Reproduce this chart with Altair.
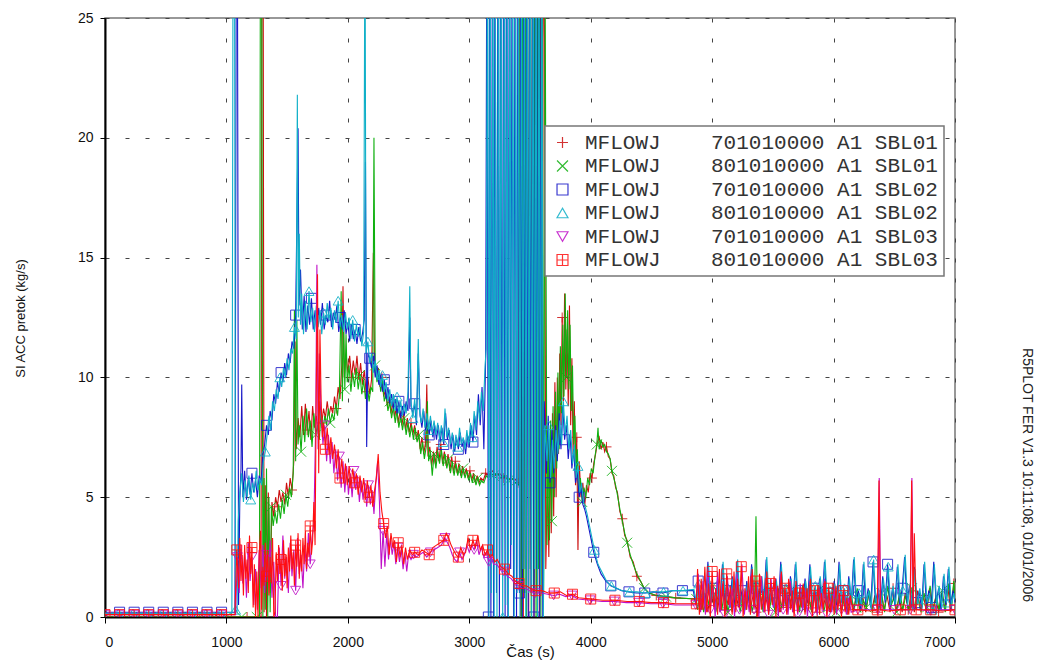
import altair as alt
import pandas as pd

NAMES = [
    "MFLOWJ    701010000 A1 SBL01",
    "MFLOWJ    801010000 A1 SBL01",
    "MFLOWJ    701010000 A1 SBL02",
    "MFLOWJ    801010000 A1 SBL02",
    "MFLOWJ    701010000 A1 SBL03",
    "MFLOWJ    801010000 A1 SBL03",
]
COLORS = ["#cc1010", "#10b010", "#1818c8", "#10b0c8", "#c010c8", "#ff1010"]
SHAPES = [
    "M-1,0L1,0M0,-1L0,1",
    "M-1,-1L1,1M-1,1L1,-1",
    "square",
    "triangle-up",
    "triangle-down",
    "M-1,-1L1,-1L1,1L-1,1ZM0,-1L0,1M-1,0L1,0",
]
X_TICKS = [0, 1000, 2000, 3000, 4000, 5000, 6000, 7000]
Y_TICKS = [0, 5, 10, 15, 20, 25]

# 701010000 A1 SBL01
s1 = [(0,0.0),(130,0.0),(260,0.0),(390,0.0),(520,0.0),(650,0.0),(780,0.0),(910,0.0),(1040,0.0),(1170,0.0),(1285,0.0),(1292,30),(1302,30),(1310,0.2),(1320,5.5),(1330,0.0),(1345,5.2),(1360,1.0),(1375,4.8),(1390,4.2),(1405,5.0),(1420,4.6),(1435,5.3),(1450,4.8),(1465,5.2),(1480,4.7),(1495,5.6),(1510,5.0),(1525,5.8),(1540,5.3),(1555,6.5),(1565,11.5),(1575,7.0),(1590,8.3),(1605,7.5),(1620,8.8),(1635,7.6),(1650,8.9),(1665,7.8),(1680,8.6),(1695,7.4),(1710,8.8),(1725,7.9),(1740,8.4),(1755,7.7),(1770,9.0),(1785,8.1),(1800,8.7),(1815,8.3),(1830,9.0),(1845,8.4),(1860,8.8),(1875,8.5),(1890,9.2),(1905,8.7),(1920,9.6),(1935,9.1),(1950,10.5),(1960,13.8),(1970,10.0),(1985,11.0),(2000,10.2),(2015,10.9),(2030,10.0),(2045,10.7),(2060,10.1),(2075,10.9),(2090,9.9),(2105,10.6),(2120,9.7),(2135,10.3),(2150,9.4),(2165,10.0),(2180,9.3),(2195,9.9),(2210,15.2),(2220,10.6),(2235,10.0),(2250,10.4),(2265,9.6),(2280,10.0),(2295,9.2),(2310,9.5),(2325,8.8),(2340,9.2),(2355,8.5),(2370,9.0),(2385,8.3),(2400,8.8),(2415,8.1),(2430,8.6),(2445,8.0),(2460,8.5),(2475,7.8),(2490,8.3),(2505,7.7),(2520,8.1),(2535,7.6),(2550,8.0),(2565,7.4),(2580,7.8),(2595,7.0),(2610,7.5),(2625,6.8),(2640,7.3),(2650,9.7),(2660,6.7),(2675,7.1),(2690,6.3),(2705,6.9),(2720,6.4),(2735,7.1),(2750,6.5),(2765,7.2),(2780,6.4),(2795,6.9),(2810,6.3),(2825,6.8),(2840,6.1),(2855,6.7),(2870,6.0),(2885,6.5),(2900,6.0),(2915,6.4),(2930,5.9),(2945,6.3),(2960,5.9),(2975,6.2),(2990,5.8),(3005,6.1),(3020,5.7),(3035,6.0),(3050,5.6),(3065,5.9),(3080,5.6),(3095,5.8),(3115,5.7),(3135,6.0),(3160,5.9),(3190,6.1),(3220,5.9),(3250,6.0),(3280,5.8),(3310,5.9),(3340,5.7),(3370,5.8),(3400,5.6),
      (3412,30),(3423,0),(3434,30),(3445,0),(3456,30),(3467,1),(3478,30),(3489,0),(3500,30),(3511,2),(3522,30),(3533,0),(3544,30),(3555,1),(3566,30),(3577,0),(3588,30),(3599,1),(3610,30),(3620,24),(3630,2.0),(3645,6.0),(3655,2.5),
      (3665,7.2),(3675,3.5),(3685,8.5),(3695,4.2),(3705,9.8),(3715,5.0),(3725,10.0),(3735,6.8),(3745,11.0),(3755,8.0),(3765,12.5),(3775,9.0),(3785,13.5),(3795,9.5),(3805,12.0),(3815,8.8),(3825,13.0),(3835,8.0),(3845,10.8),(3855,6.8),(3865,9.0),(3875,5.5),(3885,7.5),(3895,2.8),(3905,6.5),(3920,5.0),(3935,5.6),(3950,4.6),(3965,5.5),(3980,5.2),(3995,6.0),(4010,5.8),(4025,6.4),(4040,6.8),(4055,7.3),(4070,7.5),(4085,7.0),(4100,7.3),(4115,6.9),(4130,7.1),(4145,6.7),(4160,6.6),(4175,6.0),(4190,5.9),(4205,5.4),(4220,5.2),(4240,4.4),(4260,4.1),(4280,3.4),(4300,3.2),(4325,2.5),(4350,2.3),(4380,1.7),(4410,1.5),(4440,1.2),(4480,1.0),(4540,0.9),(4620,0.85),(4700,0.8),(4870,0.75),
      (4890,1.2),(4915,0.3),(4940,1.0),(4965,0.2),(4990,1.3),(5015,0.4),(5040,0.9),(5065,0.2),(5090,1.2),(5115,0.3),(5140,1.0),(5165,0.2),(5190,1.3),(5215,0.4),(5240,0.8),(5265,0.2),(5290,1.1),(5315,0.3),(5340,1.0),(5365,0.2),(5390,1.2),(5415,0.4),(5440,0.9),(5465,0.2),(5490,1.1),(5515,0.3),(5540,1.0),(5565,0.2),(5590,1.2),(5615,0.4),(5640,0.8),(5665,0.2),(5690,1.1),(5715,0.3),(5740,1.0),(5765,0.2),(5790,1.2),(5815,0.3),(5840,0.9),(5865,0.2),(5890,1.1),(5915,0.4),(5940,1.0),(5965,0.2),(5990,1.2),(6015,0.3),(6040,0.9),(6065,0.2),(6090,1.1),(6115,0.3),(6140,1.0),(6165,0.2),(6190,1.1),(6215,0.3),(6240,0.8),(6265,0.2),(6290,1.0),(6315,0.3),(6340,0.9),(6365,0.2),(6390,1.1),(6415,0.3),(6440,0.9),(6465,0.2),(6490,1.2),(6515,0.3),(6540,0.8),(6565,0.2),(6590,1.0),(6615,0.3),(6640,0.9),(6665,0.2),(6690,1.1),(6715,0.3),(6740,0.9),(6765,0.2),(6790,1.2),(6815,0.3),(6840,0.8),(6865,0.2),(6890,1.0),(6915,0.3),(6940,1.3),(6965,0.2),(6990,1.4),(7000,0.7)]

# 801010000 A1 SBL01
s2 = [(0,0.0),(125,0.0),(250,0.0),(375,0.0),(500,0.0),(625,0.0),(750,0.0),(875,0.0),(1000,0.0),(1125,0.0),(1250,0.0),(1272,0.0),(1280,30),(1290,30),(1300,0.0),(1310,5.8),(1320,0.3),(1330,6.2),(1340,0.0),(1350,5.0),(1360,0.2),(1370,4.6),(1385,3.8),(1400,4.4),(1415,3.9),(1430,4.7),(1445,4.1),(1460,4.9),(1475,4.3),(1490,5.1),(1505,4.6),(1520,5.4),(1535,5.0),(1550,6.0),(1560,12.8),(1570,6.5),(1580,12.4),(1590,7.2),(1600,8.0),(1615,6.9),(1630,8.4),(1645,7.3),(1660,8.7),(1675,7.5),(1690,8.2),(1705,7.1),(1720,8.5),(1735,7.6),(1750,8.0),(1765,7.4),(1780,8.6),(1795,7.8),(1810,8.4),(1825,8.0),(1840,8.7),(1855,8.1),(1870,8.5),(1885,8.2),(1900,8.9),(1915,8.4),(1930,9.3),(1945,13.6),(1955,9.0),(1965,12.4),(1975,9.5),(1985,11.8),(1995,9.8),(2010,10.5),(2025,9.4),(2040,10.2),(2055,9.6),(2070,10.4),(2085,9.5),(2100,10.1),(2115,9.3),(2130,9.9),(2145,9.1),(2160,9.7),(2175,9.0),(2190,9.6),(2205,9.4),(2215,20.0),(2225,10.5),(2240,9.8),(2255,10.3),(2270,9.4),(2285,9.9),(2300,9.0),(2315,9.3),(2330,8.6),(2345,9.0),(2360,8.3),(2375,8.8),(2390,8.1),(2405,8.6),(2420,7.9),(2435,8.4),(2450,7.8),(2465,8.3),(2480,7.6),(2495,8.1),(2510,7.5),(2525,8.0),(2540,7.4),(2555,7.9),(2570,7.3),(2585,7.6),(2600,6.8),(2615,7.3),(2630,6.6),(2645,7.1),(2655,9.0),(2665,6.5),(2680,6.9),(2695,5.9),(2710,6.8),(2725,6.2),(2740,6.9),(2755,6.4),(2770,7.0),(2785,6.3),(2800,6.8),(2815,6.2),(2830,6.6),(2845,6.0),(2860,6.5),(2875,5.9),(2890,6.4),(2905,5.9),(2920,6.3),(2935,5.8),(2950,6.2),(2965,5.8),(2980,6.1),(2995,5.7),(3010,6.0),(3025,5.6),(3040,5.9),(3055,5.5),(3070,5.8),(3085,5.5),(3100,5.7),(3120,5.6),(3140,5.9),(3160,5.8),(3180,6.0),(3200,5.9),(3230,6.0),(3260,5.8),(3290,5.9),(3320,5.7),(3350,5.8),(3380,5.6),(3410,5.5),
      (3420,30),(3430,0),(3440,30),(3450,1),(3460,30),(3470,0),(3480,30),(3490,2),(3500,30),(3510,0),(3520,30),(3530,1),(3540,30),(3550,0),(3560,30),(3570,2),(3580,30),(3590,0),(3600,30),(3612,1),(3625,26),(3640,3.0),
      (3650,7.5),(3660,3.2),(3670,8.2),(3680,4.0),(3690,8.8),(3700,5.0),(3710,9.4),(3720,6.2),(3730,10.2),(3740,7.0),(3750,11.3),(3760,8.5),(3770,12.2),(3780,9.2),(3790,13.5),(3800,10.0),(3810,12.8),(3820,9.5),(3830,12.2),(3840,8.6),(3850,10.5),(3860,7.2),(3870,8.4),(3880,6.0),(3890,7.0),(3900,5.2),(3915,5.8),(3930,4.8),(3945,5.4),(3960,5.0),(3975,5.8),(3990,5.5),(4005,6.2),(4020,6.0),(4035,6.7),(4050,7.2),(4060,7.9),(4070,7.0),(4085,7.4),(4100,7.1),(4115,7.2),(4130,6.9),(4145,6.8),(4160,6.6),(4175,6.1),(4190,5.8),(4205,5.5),(4220,5.1),(4240,4.5),(4260,4.0),(4280,3.5),(4300,3.1),(4325,2.6),(4350,2.2),(4380,1.8),(4410,1.5),(4440,1.2),(4480,1.0),(4540,0.9),(4620,0.85),(4700,0.8),(4870,0.75),
      (4880,0.3),(4905,1.1),(4930,0.2),(4955,0.9),(4980,0.4),(5005,1.3),(5030,0.2),(5055,0.8),(5080,0.3),(5105,1.2),(5130,0.2),(5155,0.9),(5180,0.4),(5205,1.4),(5230,0.2),(5255,0.8),(5280,0.3),(5305,1.1),(5330,0.2),(5350,0.9),(5361,4.2),(5372,0.5),(5395,1.0),(5420,0.2),(5445,1.3),(5470,0.3),(5495,0.9),(5520,0.2),(5545,1.2),(5570,0.4),(5595,0.8),(5620,0.2),(5645,1.1),(5670,0.3),(5695,0.9),(5720,0.2),(5745,1.3),(5770,0.4),(5795,0.8),(5820,0.2),(5845,1.0),(5870,0.3),(5895,1.2),(5920,0.2),(5945,0.9),(5970,0.4),(5995,1.1),(6020,0.2),(6045,0.8),(6070,0.3),(6095,1.0),(6120,0.2),(6145,0.9),(6170,0.3),(6195,1.2),(6220,0.2),(6245,0.7),(6270,0.4),(6295,1.1),(6320,0.2),(6345,0.9),(6370,0.3),(6395,1.0),(6420,0.2),(6445,1.3),(6470,0.4),(6495,0.8),(6520,0.2),(6545,1.1),(6570,0.3),(6595,0.9),(6620,0.2),(6645,1.2),(6670,0.3),(6695,0.8),(6720,0.2),(6745,1.0),(6770,0.4),(6795,1.3),(6820,0.2),(6845,0.9),(6870,0.3),(6895,1.1),(6920,0.2),(6945,1.4),(6970,0.3),(6990,1.5),(7000,0.8)]

# 701010000 A1 SBL02
s3 = [(0,0.2),(120,0.2),(240,0.2),(360,0.2),(480,0.2),(600,0.2),(720,0.2),(840,0.2),(960,0.2),(1070,0.2),(1082,30),(1090,30),(1100,0.5),(1110,4.8),(1120,6.2),(1126,9.7),(1135,5.0),(1150,6.1),(1165,4.9),(1180,5.8),(1195,5.1),(1210,6.0),(1225,5.2),(1240,5.7),(1255,5.0),(1270,5.9),(1285,5.6),(1300,6.8),(1315,7.2),(1330,8.0),(1345,7.6),(1360,8.6),(1375,8.2),(1390,9.3),(1405,8.9),(1420,9.8),(1435,9.4),(1450,10.2),(1465,9.8),(1480,10.6),(1495,10.1),(1510,11.0),(1525,10.6),(1540,11.5),(1555,11.2),(1570,12.6),(1580,16.5),(1590,20.4),(1598,13.0),(1610,14.5),(1625,12.0),(1640,13.4),(1655,11.9),(1670,13.0),(1685,12.2),(1700,13.3),(1715,12.0),(1730,12.8),(1745,11.8),(1760,12.9),(1775,12.2),(1790,13.1),(1805,12.0),(1820,12.6),(1835,12.3),(1850,13.2),(1865,12.1),(1880,12.7),(1895,12.4),(1910,13.0),(1925,11.9),(1940,12.5),(1955,12.0),(1970,12.8),(1985,11.8),(2000,12.3),(2015,11.5),(2030,12.2),(2045,11.6),(2060,12.0),(2075,11.4),(2090,12.1),(2105,11.5),(2120,11.8),(2135,12.4),(2145,19.0),(2155,7.1),(2165,11.0),(2180,10.8),(2195,10.4),(2210,10.9),(2225,10.0),(2240,10.5),(2255,9.7),(2270,10.1),(2285,9.4),(2300,9.9),(2315,9.1),(2330,9.6),(2345,8.9),(2360,9.3),(2375,8.7),(2390,9.1),(2405,8.5),(2420,9.0),(2435,8.3),(2450,8.8),(2465,8.4),(2480,9.0),(2495,8.6),(2510,12.5),(2520,8.8),(2535,8.5),(2550,8.9),(2565,8.0),(2580,11.0),(2595,8.4),(2610,7.9),(2625,8.6),(2640,7.8),(2655,8.3),(2670,7.6),(2685,8.2),(2700,7.5),(2715,8.0),(2730,7.4),(2745,8.0),(2760,7.3),(2775,7.9),(2790,7.2),(2805,8.5),(2820,7.4),(2835,7.8),(2850,7.0),(2865,7.6),(2880,6.9),(2895,7.5),(2910,7.0),(2925,7.7),(2940,7.1),(2955,7.4),(2970,6.8),(2985,7.6),(3000,7.1),(3015,8.0),(3030,7.3),(3045,8.4),(3060,7.6),(3075,9.3),(3090,8.0),(3105,9.6),(3120,7.0),(3135,10.8),
      (3145,30),(3157,0),(3168,30),(3178,0),(3190,28),(3200,0),(3212,30),(3224,1),(3236,30),(3248,0),(3258,30),(3270,2),(3283,30),(3295,0),(3306,30),(3318,0),(3330,30),(3341,2),(3353,30),(3365,0),(3377,30),(3389,0),(3401,30),(3413,1),(3425,30),(3437,0),(3449,30),(3461,2),(3473,30),(3485,0),(3497,30),(3509,1),(3521,30),(3533,0),(3545,30),(3557,2),(3569,30),(3581,0),(3593,30),(3605,0),(3617,9.0),
      (3635,6.0),(3650,8.4),(3665,5.6),(3680,7.8),(3695,6.0),(3710,8.0),(3725,6.5),(3740,8.5),(3755,7.0),(3770,8.8),(3785,7.4),(3800,8.0),(3815,6.6),(3830,7.6),(3845,6.2),(3860,7.0),(3875,5.6),(3890,6.1),(3905,5.0),(3920,5.4),(3935,4.7),(3950,4.5),(3965,4.2),(3985,3.7),(4005,3.2),(4025,2.7),(4055,2.2),(4085,1.8),(4125,1.5),(4165,1.3),(4210,1.2),(4255,1.1),(4315,1.05),(4375,1.0),(4445,1.0),(4515,1.05),(4595,1.0),(4675,1.1),(4755,1.1),(4845,1.1),
      (4865,0.5),(4885,1.5),(4905,0.4),(4925,1.1),(4945,0.5),(4965,2.3),(4985,0.6),(5005,1.2),(5025,0.3),(5045,1.6),(5065,0.5),(5085,2.2),(5105,0.7),(5125,1.1),(5145,0.4),(5165,1.7),(5185,0.6),(5205,2.3),(5225,0.4),(5245,1.1),(5265,0.3),(5285,1.5),(5305,0.6),(5325,2.2),(5345,0.5),(5365,1.2),(5385,0.3),(5405,1.6),(5425,0.5),(5445,2.4),(5465,0.6),(5485,1.0),(5505,0.4),(5525,1.6),(5545,0.5),(5565,2.3),(5585,0.6),(5605,1.1),(5625,0.4),(5645,1.7),(5665,0.5),(5685,2.2),(5705,0.6),(5725,1.1),(5745,0.3),(5765,1.6),(5785,0.6),(5805,2.2),(5825,0.4),(5845,1.2),(5865,0.5),(5885,1.6),(5905,0.5),(5925,2.3),(5945,0.6),(5965,1.0),(5985,0.4),(6005,1.5),(6025,0.5),(6045,2.3),(6065,0.6),(6085,1.1),(6105,0.3),(6125,1.7),(6145,0.5),(6165,2.4),(6185,0.6),(6205,1.1),(6225,0.3),(6245,2.2),(6265,0.5),(6285,1.2),(6305,0.4),(6325,2.3),(6345,0.6),(6365,1.1),(6385,0.3),(6405,1.7),(6425,0.6),(6445,2.2),(6465,0.4),(6485,1.2),(6505,0.5),(6525,2.1),(6545,0.5),(6565,1.2),(6585,2.5),(6605,0.6),(6625,1.3),(6645,0.4),(6665,2.1),(6685,0.6),(6705,1.1),(6725,0.3),(6745,2.2),(6765,0.5),(6785,1.1),(6805,0.4),(6825,2.3),(6845,0.6),(6865,1.2),(6885,0.3),(6905,1.7),(6925,0.5),(6945,2.0),(6965,0.6),(6985,1.1),(7000,0.6)]

# 801010000 A1 SBL02
s4 = [(0,0.15),(110,0.15),(230,0.15),(350,0.15),(470,0.15),(590,0.15),(710,0.15),(830,0.15),(950,0.15),(1045,0.2),(1055,30),(1066,30),(1075,0.3),(1088,0.2),(1097,4.0),(1110,5.2),(1125,6.0),(1140,4.8),(1155,5.7),(1170,5.0),(1185,5.9),(1200,4.9),(1215,5.6),(1230,5.2),(1245,6.1),(1260,5.3),(1275,5.8),(1290,5.5),(1305,6.5),(1320,6.9),(1335,7.6),(1350,8.4),(1365,7.8),(1380,9.0),(1395,8.6),(1410,9.5),(1425,9.1),(1440,10.0),(1455,9.6),(1470,10.4),(1485,10.0),(1500,10.8),(1515,10.3),(1530,11.2),(1545,11.0),(1560,12.1),(1575,11.6),(1584,21.8),(1592,12.5),(1600,16.0),(1610,12.2),(1620,13.5),(1635,11.8),(1650,13.2),(1665,12.0),(1680,13.6),(1695,12.3),(1710,12.9),(1725,11.9),(1740,13.0),(1755,12.1),(1770,12.8),(1785,11.8),(1800,12.7),(1815,12.2),(1830,13.1),(1845,12.4),(1860,12.9),(1875,12.0),(1890,12.8),(1905,12.3),(1920,13.2),(1935,12.1),(1950,12.6),(1965,11.9),(1980,12.7),(1995,12.0),(2010,12.5),(2025,11.6),(2040,12.4),(2055,11.5),(2070,12.2),(2085,11.7),(2100,12.1),(2115,11.3),(2130,11.9),(2141,30),(2150,11.0),(2165,11.5),(2180,10.6),(2195,11.0),(2210,10.2),(2225,10.7),(2240,9.9),(2255,10.3),(2270,9.6),(2285,10.1),(2300,9.4),(2315,9.8),(2330,9.0),(2345,9.5),(2360,8.8),(2375,9.3),(2390,8.6),(2405,9.2),(2420,8.5),(2435,9.0),(2450,8.4),(2465,8.9),(2480,8.5),(2495,9.4),(2510,13.8),(2520,9.0),(2535,8.3),(2550,9.1),(2565,8.2),(2580,11.6),(2590,8.6),(2605,8.1),(2620,8.7),(2635,7.9),(2650,8.5),(2665,7.8),(2680,8.4),(2695,7.7),(2710,8.2),(2725,7.6),(2740,8.1),(2755,7.4),(2770,8.0),(2785,7.3),(2800,8.7),(2815,7.5),(2830,7.9),(2845,7.2),(2860,7.7),(2875,7.0),(2890,7.6),(2905,7.1),(2920,7.9),(2935,7.2),(2950,7.5),(2965,7.0),(2980,7.8),(2995,7.2),(3010,8.1),(3025,7.5),(3040,8.6),(3055,7.8),(3070,9.0),(3085,8.2),(3100,9.4),(3115,8.6),(3130,10.5),(3140,11.2),
      (3150,30),(3162,0),(3172,30),(3182,1),(3195,30),(3205,0),(3215,26),(3228,0),(3240,30),(3252,2),(3262,30),(3275,0),(3288,30),(3300,0.5),(3312,30),(3322,0),(3335,30),(3346,3),(3358,30),(3370,0),(3382,30),(3394,1),(3406,30),(3418,0),(3430,30),(3442,2),(3454,30),(3466,0),(3478,30),(3490,1),(3502,30),(3514,0),(3526,30),(3538,2),(3550,30),(3562,0),(3574,30),(3586,1),(3598,30),(3610,0),(3622,8.0),
      (3640,6.5),(3655,8.0),(3670,5.8),(3685,7.4),(3700,6.2),(3715,7.8),(3730,6.8),(3745,8.2),(3760,7.2),(3775,9.0),(3790,7.6),(3805,8.4),(3820,7.0),(3835,7.8),(3850,6.4),(3865,7.2),(3880,5.8),(3895,6.3),(3910,5.2),(3925,5.6),(3940,4.8),(3955,4.6),(3970,4.3),(3990,3.8),(4010,3.3),(4030,2.8),(4060,2.2),(4090,1.9),(4130,1.5),(4170,1.3),(4215,1.2),(4260,1.1),(4320,1.05),(4380,1.05),(4450,1.0),(4520,1.05),(4600,1.05),(4680,1.1),(4760,1.1),(4850,1.15),
      (4870,0.6),(4890,1.4),(4910,0.5),(4930,1.2),(4950,0.4),(4970,2.2),(4990,0.6),(5010,1.1),(5030,0.3),(5050,1.5),(5070,0.5),(5090,2.3),(5110,0.6),(5130,1.2),(5150,0.4),(5170,1.6),(5190,0.7),(5210,2.4),(5230,0.5),(5250,1.0),(5270,0.3),(5290,1.4),(5310,0.6),(5330,2.1),(5350,0.5),(5370,1.3),(5390,0.4),(5410,1.7),(5430,0.6),(5450,2.5),(5470,0.5),(5490,1.1),(5510,0.4),(5530,1.5),(5550,0.6),(5570,2.2),(5590,0.5),(5610,1.2),(5630,0.3),(5650,1.6),(5670,0.6),(5690,2.3),(5710,0.5),(5730,1.0),(5750,0.4),(5770,1.5),(5790,0.7),(5810,2.1),(5830,0.5),(5850,1.3),(5870,0.4),(5890,1.7),(5910,0.6),(5930,2.4),(5950,0.5),(5970,1.1),(5990,0.3),(6010,1.4),(6030,0.6),(6050,2.2),(6070,0.5),(6090,1.2),(6110,0.4),(6130,1.6),(6150,0.6),(6170,2.5),(6190,0.5),(6210,1.0),(6230,0.4),(6250,2.3),(6270,0.6),(6290,1.1),(6310,0.3),(6330,2.4),(6350,0.5),(6370,1.2),(6390,0.4),(6410,1.6),(6430,0.7),(6450,2.1),(6470,0.5),(6490,1.3),(6510,0.4),(6530,2.2),(6550,0.6),(6570,1.1),(6590,2.6),(6610,0.5),(6630,1.4),(6650,0.3),(6670,2.0),(6690,0.5),(6710,1.2),(6730,0.4),(6750,2.3),(6770,0.6),(6790,1.0),(6810,0.3),(6830,2.2),(6850,0.5),(6870,1.3),(6890,0.4),(6910,1.8),(6930,0.6),(6950,2.1),(6970,0.5),(6990,1.0),(7000,0.7)]

# 701010000 A1 SBL03
s5 = [(0,0.1),(120,0.1),(240,0.1),(360,0.1),(480,0.1),(600,0.1),(720,0.1),(840,0.1),(960,0.1),(1075,0.1),(1090,2.5),(1105,1.0),(1120,3.0),(1135,1.4),(1150,2.7),(1165,0.8),(1180,3.1),(1195,1.5),(1210,2.5),(1225,0.5),(1240,2.0),(1255,0.3),(1270,2.8),(1285,1.2),(1300,3.0),(1315,1.0),(1330,2.6),(1345,1.5),(1360,3.2),(1375,0.8),(1390,2.3),(1405,0.0),(1420,0.0),(1435,2.9),(1450,1.3),(1465,3.4),(1480,1.6),(1495,2.5),(1510,1.0),(1525,3.1),(1540,1.7),(1555,2.8),(1570,1.1),(1585,3.3),(1600,1.8),(1615,2.6),(1630,1.2),(1645,3.0),(1660,1.9),(1675,3.5),(1690,2.2),(1705,3.3),(1720,3.9),(1735,8.0),(1745,14.7),(1755,7.0),(1765,11.0),(1780,8.4),(1795,7.2),(1810,8.0),(1825,6.5),(1840,7.6),(1855,6.4),(1870,7.3),(1885,6.0),(1900,7.0),(1915,5.7),(1930,6.7),(1945,5.4),(1960,6.5),(1975,5.2),(1990,6.3),(2005,5.1),(2020,6.0),(2035,5.0),(2050,6.1),(2065,5.3),(2080,5.9),(2095,4.8),(2110,5.7),(2125,4.9),(2140,5.6),(2155,4.6),(2170,5.5),(2185,4.7),(2200,5.3),(2215,4.3),(2230,5.6),(2245,6.5),(2260,4.8),(2275,2.0),(2290,3.6),(2305,2.1),(2320,3.5),(2335,2.4),(2350,3.3),(2365,2.6),(2380,3.1),(2395,2.2),(2410,2.9),(2425,2.3),(2440,2.8),(2455,2.0),(2470,2.7),(2485,1.9),(2500,2.6),(2520,2.4),(2540,2.6),(2560,2.5),(2590,2.6),(2620,2.7),(2650,2.5),(2680,2.7),(2710,2.8),(2740,2.9),(2770,3.0),(2800,3.3),(2820,3.1),(2840,2.9),(2860,2.6),(2880,2.4),(2900,2.3),(2920,2.7),(2940,2.4),(2960,2.6),(2980,3.0),(3000,2.7),(3020,3.0),(3040,2.8),(3060,3.2),(3080,2.6),(3100,2.9),(3120,2.5),(3140,2.7),(3160,2.3),(3180,2.5),(3200,2.2),(3225,2.2),(3255,2.0),(3285,1.9),(3315,1.7),(3345,1.6),(3375,1.4),(3405,1.3),(3435,1.2),(3465,1.2),(3495,1.1),(3545,1.0),(3595,1.0),(3645,0.95),(3695,0.9),(3745,0.95),(3795,0.85),(3845,0.9),(3895,0.75),(3995,0.7),(4095,0.65),(4195,0.65),(4295,0.6),(4395,0.6),(4495,0.55),(4595,0.55),(4695,0.5),(4865,0.5),
      (4885,1.8),(4905,0.2),(4925,1.5),(4945,0.1),(4965,2.0),(4985,0.3),(5005,1.3),(5025,0.0),(5045,1.9),(5065,0.2),(5085,1.4),(5105,0.1),(5125,1.7),(5145,0.4),(5165,1.2),(5185,0.0),(5205,1.8),(5225,0.3),(5245,2.2),(5265,0.1),(5285,1.1),(5305,0.2),(5325,1.8),(5345,0.3),(5365,1.4),(5385,0.0),(5405,1.7),(5425,0.2),(5445,1.2),(5465,0.1),(5485,1.6),(5505,0.4),(5525,1.3),(5545,0.0),(5565,1.8),(5585,0.3),(5605,1.1),(5625,0.1),(5645,1.5),(5665,0.2),(5685,1.0),(5705,0.1),(5725,1.4),(5745,0.3),(5765,1.1),(5785,0.0),(5805,1.5),(5825,0.2),(5845,1.0),(5865,0.1),(5885,1.2),(5905,0.3),(5925,1.6),(5945,0.1),(5965,1.0),(5985,0.2),(6005,1.2),(6025,0.1),(6045,0.9),(6065,0.3),(6085,1.1),(6105,0.1),(6125,0.8),(6145,0.2),
      (6200,0.3),(6300,0.3),(6365,0.3),(6376,5.8),(6388,0.3),(6500,0.3),(6632,0.3),(6645,5.8),(6658,0.4),(6700,0.3),(6800,0.25),(6900,0.3),(7000,0.3)]

# 801010000 A1 SBL03
s6 = [(0,0.1),(120,0.1),(240,0.1),(360,0.1),(480,0.1),(600,0.1),(720,0.1),(840,0.1),(960,0.1),(1070,0.1),(1085,2.8),(1100,1.2),(1110,3.3),(1120,1.5),(1130,2.6),(1140,0.9),(1150,3.0),(1160,1.6),(1170,2.4),(1180,1.0),(1190,3.4),(1200,1.8),(1210,2.9),(1220,0.4),(1230,2.2),(1240,0.0),(1250,1.9),(1260,0.0),(1270,2.6),(1280,3.6),(1290,0.3),(1300,2.1),(1310,1.3),(1320,3.1),(1330,1.7),(1340,2.8),(1350,0.9),(1360,2.5),(1370,1.4),(1380,3.3),(1390,0.0),(1400,0.2),(1410,2.7),(1420,1.5),(1430,3.0),(1440,1.8),(1450,2.4),(1460,1.1),(1470,3.2),(1480,1.7),(1490,2.6),(1500,1.2),(1510,2.9),(1520,1.9),(1530,3.4),(1540,2.0),(1550,2.7),(1560,1.3),(1570,3.0),(1580,2.1),(1590,3.5),(1600,1.6),(1610,2.8),(1620,1.9),(1630,3.3),(1640,2.2),(1650,3.6),(1660,2.0),(1670,3.1),(1680,2.5),(1690,3.8),(1700,2.6),(1710,3.2),(1720,4.8),(1730,3.0),(1740,9.5),(1750,14.3),(1760,6.0),(1770,12.0),(1780,9.0),(1790,7.5),(1800,8.1),(1815,7.0),(1830,7.9),(1845,6.8),(1860,7.5),(1875,6.6),(1890,7.2),(1905,6.2),(1920,7.0),(1935,5.8),(1950,6.6),(1965,5.6),(1980,6.4),(1995,5.5),(2010,6.3),(2025,5.4),(2040,6.2),(2055,5.6),(2070,6.0),(2085,5.1),(2100,5.9),(2115,5.2),(2130,5.8),(2145,4.9),(2160,5.7),(2175,5.0),(2190,5.5),(2205,4.6),(2220,5.3),(2235,5.8),(2250,6.8),(2265,5.2),(2280,4.4),(2295,3.9),(2310,3.3),(2325,3.8),(2340,2.6),(2355,3.5),(2370,2.9),(2385,3.2),(2400,2.3),(2415,3.1),(2430,2.5),(2445,3.0),(2460,2.2),(2475,2.9),(2490,2.4),(2510,2.8),(2530,2.6),(2550,2.7),(2580,2.6),(2610,2.8),(2640,2.7),(2670,2.6),(2700,2.9),(2730,3.0),(2760,3.1),(2790,3.2),(2810,3.5),(2830,3.3),(2850,3.0),(2870,2.8),(2890,2.6),(2910,2.5),(2930,2.9),(2950,2.6),(2970,2.7),(2990,3.3),(3010,2.8),(3030,3.2),(3050,2.9),(3070,3.4),(3090,2.8),(3110,3.0),(3130,2.6),(3150,2.8),(3170,2.5),(3190,2.6),(3210,2.3),(3230,2.4),(3260,2.1),(3290,2.0),(3320,1.8),(3350,1.7),(3380,1.5),(3410,1.4),(3440,1.3),(3470,1.3),(3500,1.2),(3550,1.1),(3600,1.1),(3650,1.0),(3700,1.0),(3750,1.05),(3800,0.9),(3850,0.95),(3900,0.8),(4000,0.75),(4100,0.7),(4200,0.7),(4300,0.65),(4400,0.65),(4500,0.6),(4600,0.6),(4700,0.55),(4870,0.55),
      (4880,2.0),(4895,0.1),(4910,1.6),(4925,0.3),(4940,2.1),(4955,0.2),(4970,1.4),(4985,0.0),(5000,1.9),(5015,0.4),(5030,1.2),(5045,0.1),(5060,2.0),(5075,0.3),(5090,1.5),(5105,0.0),(5120,1.8),(5135,0.5),(5150,1.3),(5165,0.1),(5180,1.9),(5195,0.2),(5210,1.6),(5225,0.4),(5240,2.1),(5255,0.0),(5270,1.2),(5285,0.3),(5300,1.7),(5315,0.1),(5330,2.0),(5345,0.4),(5360,1.5),(5375,0.0),(5390,1.8),(5405,0.3),(5420,1.1),(5435,0.2),(5450,1.9),(5465,0.1),(5480,1.4),(5495,0.5),(5510,1.7),(5525,0.0),(5540,1.3),(5555,0.2),(5570,1.9),(5585,0.4),(5600,1.2),(5615,0.1),(5630,1.6),(5645,0.3),(5660,1.1),(5675,0.0),(5690,1.5),(5705,0.2),(5720,1.0),(5735,0.4),(5750,1.4),(5765,0.1),(5780,1.2),(5795,0.3),(5810,1.6),(5825,0.0),(5840,1.1),(5855,0.2),(5870,1.3),(5885,0.1),(5900,1.0),(5915,0.3),(5930,1.5),(5945,0.0),(5960,1.2),(5975,0.2),(5990,0.9),(6005,0.1),(6020,1.3),(6035,0.3),(6050,1.0),(6065,0.0),(6080,1.1),(6095,0.2),(6110,0.8),(6125,0.1),(6140,0.9),(6155,0.3),
      (6200,0.3),(6300,0.25),(6360,0.3),(6374,5.7),(6385,0.3),(6450,0.25),(6550,0.3),(6630,0.3),(6643,5.7),(6655,0.4),(6665,3.5),(6680,0.3),(6800,0.3),(6900,0.25),(7000,0.3)]

SERIES = [s1, s2, s3, s4, s5, s6]
MARK_START = [60, 0, 30, 90, 0, 0]

labels = [n.replace(" ", "\u00a0") for n in NAMES]


def frame(pairs, name, start, step=120):
    rows = []
    nxt = start
    for t, v in pairs:
        m = t >= nxt
        if m:
            nxt = t + step
        rows.append({"t": t, "v": v, "series": name, "mark": m})
    return pd.DataFrame(rows)


xs = alt.Scale(domain=[0, 7000], nice=False)
ys = alt.Scale(domain=[0, 25], nice=False)
x_axis = alt.Axis(values=X_TICKS, title="Čas (s)", titleFontSize=15, titleFontWeight="normal",
                  titleY=27, titleX=425, titleBaseline="top", titleAlign="center",
                  labelFontSize=14, tickSize=6, labelPadding=12, format="d",
                  grid=True, gridDash=[4, 16], gridColor="#444", gridWidth=1)
y_axis = alt.Axis(values=Y_TICKS, title="SI ACC pretok (kg/s)", titleFontSize=13,
                  titleFontWeight="normal", titleX=-85, titleY=300, titleAngle=270,
                  titleAlign="center", titleBaseline="middle",
                  labelFontSize=14, tickSize=5, labelPadding=7,
                  grid=True, gridDash=[4, 16], gridColor="#444", gridWidth=1)

color_scale = alt.Scale(domain=labels, range=COLORS)
shape_scale = alt.Scale(domain=labels, range=SHAPES)
leg = alt.Legend(title=None, orient="none", legendX=440, legendY=108)

layers = []
for i, pairs in enumerate(SERIES):
    df = frame(pairs, labels[i], MARK_START[i])
    line = alt.Chart(df).mark_line(strokeWidth=1.1, clip=True, color=COLORS[i]).encode(
        x=alt.X("t:Q", scale=xs, axis=x_axis),
        y=alt.Y("v:Q", scale=ys, axis=y_axis),
        order="t:Q")
    pts = alt.Chart(df[df["mark"]]).mark_point(filled=False, size=100, strokeWidth=1,
                                               clip=True, opacity=0.85).encode(
        x=alt.X("t:Q", scale=xs, axis=x_axis),
        y=alt.Y("v:Q", scale=ys, axis=y_axis),
        color=alt.Color("series:N", scale=color_scale, legend=leg),
        shape=alt.Shape("series:N", scale=shape_scale, legend=leg),
    )
    layers += [line, pts]

note = alt.Chart(pd.DataFrame({"a": [0]})).mark_text(
    angle=90, fontSize=14, font="Liberation Sans", align="center", baseline="middle",
    color="#222").encode(x=alt.value(922), y=alt.value(457),
                         text=alt.value("R5PLOT FER V1.3 10:11:08, 01/01/2006"))
layers.append(note)

chart = alt.layer(*layers).properties(
    width=850, height=599,
    autosize=alt.AutoSizeParams(type="none"),
    padding={"left": 97, "top": 10, "right": 81, "bottom": 44},
    background="white",
).configure_view(
    stroke="#777", strokeWidth=1.5
).configure_axis(
    labelFont="Liberation Sans", titleFont="Liberation Sans", labelColor="#111",
    titleColor="#111", domainColor="#000", domainWidth=2, tickColor="#000",
).configure_legend(
    labelFont="Liberation Mono", labelFontSize=21, labelColor="#333", labelLimit=0,
    fillColor="white", strokeColor="#777", strokeWidth=1.5, padding=6,
    symbolSize=120, symbolStrokeWidth=1.2, symbolOffset=1, labelOffset=12,
    rowPadding=1.5, symbolType="square",
)

chart.save("out.html", embed_options={"renderer": "svg", "actions": False})
